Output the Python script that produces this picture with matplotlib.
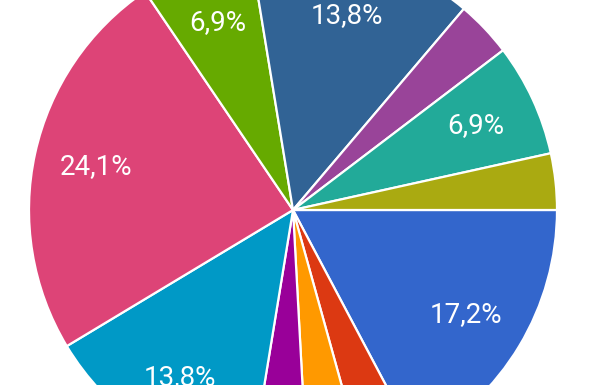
import matplotlib.pyplot as plt
import numpy as np

# responses per option (29 in total), drawn clockwise from 3 o'clock
counts = [5, 1, 1, 1, 4, 7, 2, 4, 1, 2, 1]
colors = ['#3366cc', '#dc3912', '#ff9900', '#990099', '#0099c6', '#dd4477',
          '#66aa00', '#316395', '#994499', '#22aa99', '#aaaa11']

total = sum(counts)


def pct_label(p):
    # small slices get no label, like in the original
    if p < 5:
        return ''
    return f'{p:.1f}'.replace('.', ',') + '%'


fig = plt.figure(figsize=(5.89, 3.85), dpi=100)
ax = fig.add_axes([0, 0, 1, 1])

wedges = ax.pie(counts, colors=colors, startangle=0, counterclock=False,
                center=(293, 175), radius=264, frame=False,
                wedgeprops=dict(edgecolor='white', linewidth=1.6))[0]

for w, c in zip(wedges, counts):
    lab = pct_label(c / total * 100)
    if not lab:
        continue
    ang = np.deg2rad((w.theta1 + w.theta2) / 2)
    r = 264 * 0.765
    ax.text(293 + r * np.cos(ang), 175 + r * np.sin(ang), lab,
            ha='center', va='center', color='white', fontsize=20,
            family='Roboto')

ax.set_xlim(0, 589)
ax.set_ylim(0, 385)
ax.set_aspect('equal')
ax.axis('off')

fig.savefig('out.png', dpi=100)
